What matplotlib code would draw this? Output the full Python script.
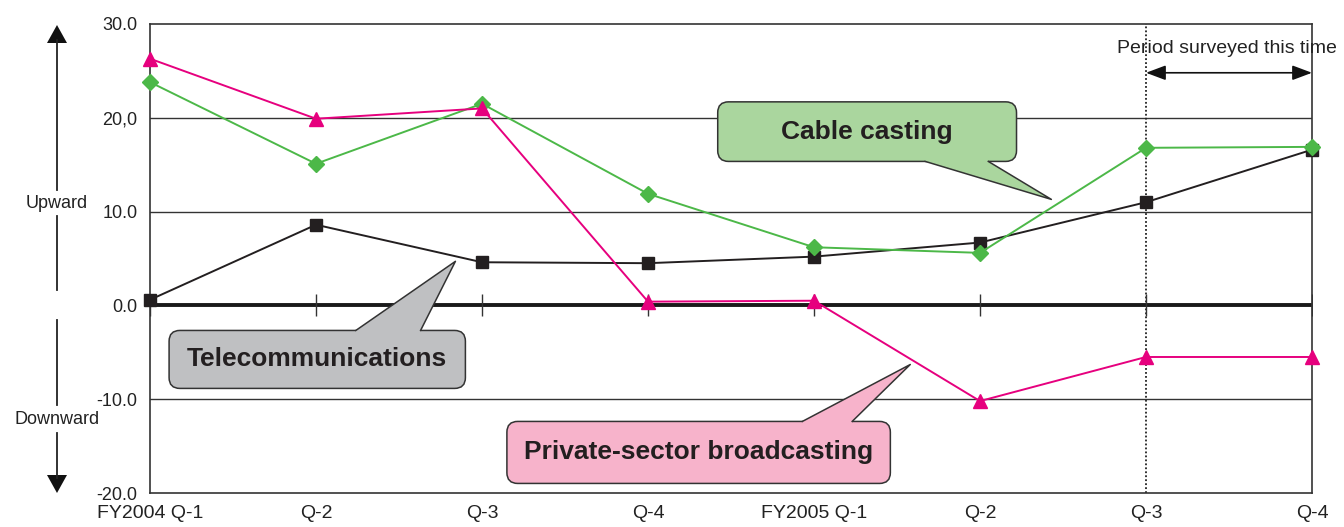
import matplotlib
matplotlib.use("Agg")
import matplotlib.pyplot as plt
from matplotlib.patches import FancyBboxPatch, Polygon
from matplotlib.lines import Line2D

plt.rcParams['font.family'] = ['Liberation Sans', 'DejaVu Sans']

# data
quarters = ["FY2004 Q-1", "Q-2", "Q-3", "Q-4", "FY2005 Q-1", "Q-2", "Q-3", "Q-4"]
private_bc = [26.3, 19.9, 21.0, 0.4, 0.5, -10.2, -5.5, -5.5]
cable = [23.8, 15.1, 21.5, 11.9, 6.2, 5.6, 16.8, 16.9]
telecom = [0.6, 8.6, 4.6, 4.5, 5.2, 6.7, 11.0, 16.6]
ytick_vals = [30, 20, 10, 0, -10, -20]
ytick_labels = ["30.0", "20,0", "10.0", "0.0", "-10.0", "-20.0"]

W, H = 1344, 527
fig = plt.figure(figsize=(W / 100, H / 100), dpi=100)
ax = fig.add_axes([150 / W, 1 - 493 / H, 1162 / W, 469 / H])
x = list(range(len(quarters)))
ax.set_xlim(0, 7)
ax.set_ylim(-20, 30)

edge = "#333333"
for s in ax.spines.values():
    s.set_color(edge)
    s.set_linewidth(1.2)

# grid + zero line
for g in [20, 10, -10]:
    ax.axhline(g, color="#333333", lw=1.0, zorder=1)
ax.axhline(0, color="#1a1a1a", lw=2.8, zorder=2)
ax.plot(x, [0] * len(x), ls="none", marker="|", ms=16, mew=1.0, color="#333333", zorder=2)

ax.set_xticks(x)
ax.set_xticklabels(quarters, fontsize=14, color="#222222")
ax.set_yticks(ytick_vals)
ax.set_yticklabels(ytick_labels, fontsize=13, color="#222222")
ax.tick_params(axis="both", length=0)
ax.tick_params(axis="x", pad=9)
ax.tick_params(axis="y", pad=9)

# survey period marker
ax.axvline(6, color="#222222", lw=1.3, ls=(0, (1, 1.2)), zorder=1)
ax.annotate("", xy=(7, 24.8), xytext=(6, 24.8),
            arrowprops=dict(arrowstyle="<|-|>,head_length=1.2,head_width=0.45",
                            color="#111111", lw=1.2, shrinkA=0, shrinkB=0))
ax.text(6.49, 27.4, "Period surveyed this time", ha="center", va="center",
        fontsize=14, color="#222222", clip_on=False)

# series
ax.plot(x, telecom, color="#231f20", lw=1.4, marker="s", ms=8, zorder=4, clip_on=False)
ax.plot(x, cable, color="#4cb848", lw=1.4, marker="D", ms=8, zorder=4, clip_on=False)
ax.plot(x, private_bc, color="#e6007e", lw=1.4, marker="^", ms=10, zorder=4, clip_on=False)

asp = (50 / 469) / (7 / 1162)


def callout(x0, x1, y0, y1, bx0, bx1, base_y, inner_y, tip, fc, label):
    box = FancyBboxPatch((x0, y0), x1 - x0, y1 - y0,
                         boxstyle="round,pad=0,rounding_size=0.065",
                         mutation_aspect=asp, fc=fc, ec=edge, lw=1.1, zorder=5)
    ax.add_patch(box)
    ax.add_patch(Polygon([(bx0, inner_y), (bx0, base_y), tip, (bx1, base_y), (bx1, inner_y)],
                         closed=True, fc=fc, ec="none", zorder=6))
    ax.plot([bx0, tip[0], bx1], [base_y, tip[1], base_y], color=edge, lw=1.1, zorder=6)
    ax.text((x0 + x1) / 2, (y0 + y1) / 2, label, ha="center", va="center",
            fontsize=19, fontweight="bold", color="#231f20", zorder=7)


callout(3.42, 5.22, 15.35, 21.7, 4.67, 5.05, 15.35, 16.0, (5.43, 11.3), "#aad69e", "Cable casting")
callout(0.115, 1.90, -8.85, -2.67, 1.24, 1.63, -2.67, -3.3, (1.84, 4.7), "#bfc0c2", "Telecommunications")
callout(2.15, 4.46, -18.98, -12.37, 3.93, 4.23, -12.37, -13.0, (4.58, -6.3), "#f7b3cb", "Private-sector broadcasting")


# left direction arrow, drawn in figure pixels
def px(xp, yp):
    return xp / W, 1 - yp / H


for ya, yb in [(40, 190), (216, 290), (320, 405), (433, 478)]:
    (xa, ya_), (xb, yb_) = px(57, ya), px(57, yb)
    fig.add_artist(Line2D([xa, xb], [ya_, yb_], color="#222222", lw=1.3))
fig.add_artist(Polygon([px(57, 25), px(47, 43), px(67, 43)], closed=True,
                       fc="#111111", ec="none", transform=fig.transFigure))
fig.add_artist(Polygon([px(57, 493), px(47, 475), px(67, 475)], closed=True,
                       fc="#111111", ec="none", transform=fig.transFigure))
fig.text(*px(57, 203), "Upward", ha="center", va="center", fontsize=13, color="#222222")
fig.text(*px(57, 419), "Downward", ha="center", va="center", fontsize=13, color="#222222")

fig.savefig("out.png", dpi=100)
